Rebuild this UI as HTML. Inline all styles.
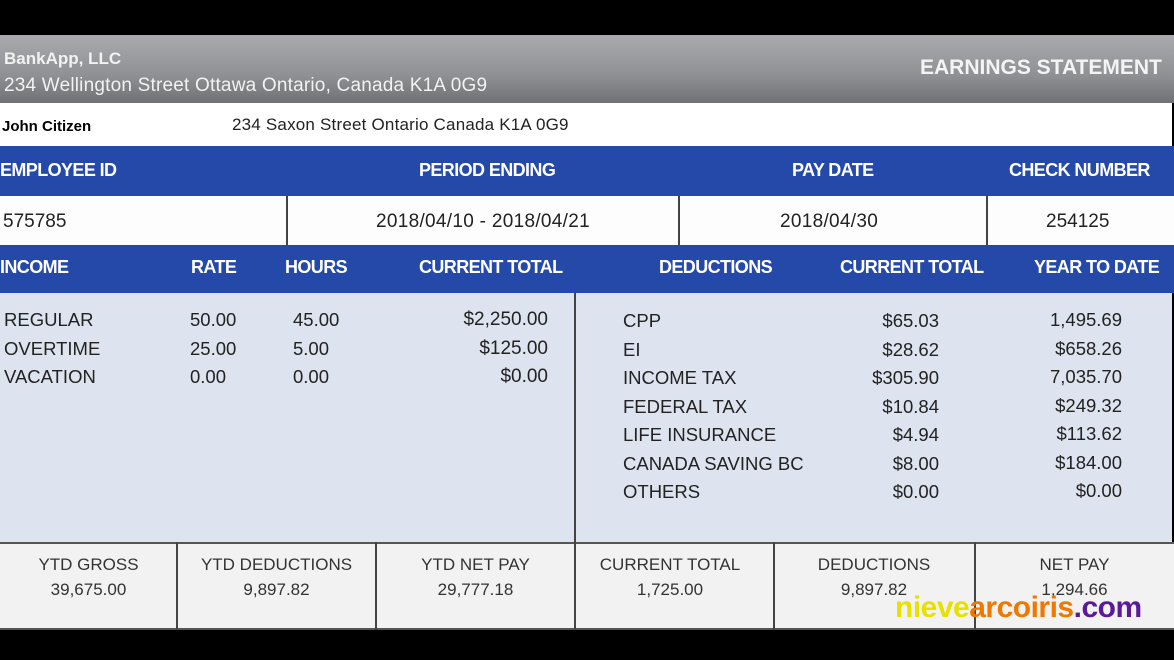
<!DOCTYPE html>
<html><head><meta charset="utf-8"><style>
*{margin:0;padding:0;box-sizing:border-box}
body{width:1174px;height:660px;background:#000;position:relative;overflow:hidden;font-family:"Liberation Sans",sans-serif}
.a{position:absolute;white-space:nowrap}
.hdr{left:0;top:35px;width:1174px;height:68px;background:linear-gradient(#a9abae,#8e9093 60%,#6f7174)}
.blue{background:#2549a8;color:#fff;font-weight:bold;font-size:18px;letter-spacing:-0.6px}
.t{font-size:18.5px;color:#222}
.vl{position:absolute;width:2px;background:#444}
.b{font-size:17px;color:#333;line-height:25px;text-align:center;top:552px}
</style></head><body>
<div class="a hdr"></div>
<div class="a" style="left:4px;top:49px;color:#f2f2f2;font-weight:bold;font-size:17px">BankApp, LLC</div>
<div class="a" style="left:4px;top:75px;color:#f2f2f2;font-size:19px;letter-spacing:0.2px">234 Wellington Street Ottawa Ontario, Canada K1A 0G9</div>
<div class="a" style="left:920px;top:56px;color:#f4f4f4;font-weight:bold;font-size:21px;letter-spacing:0px">EARNINGS STATEMENT</div>
<div class="a" style="left:0;top:103px;width:1172px;height:43px;background:#fff"></div>
<div class="a" style="left:2px;top:118px;font-weight:bold;font-size:15px;color:#000">John Citizen</div>
<div class="a t" style="left:232px;top:115px;font-size:17px;letter-spacing:0.2px">234 Saxon Street Ontario Canada K1A 0G9</div>
<div class="a blue" style="left:0;top:146px;width:1174px;height:50px"></div>
<div class="a blue" style="left:0;top:160px;background:none">EMPLOYEE ID</div>
<div class="a blue" style="left:419px;top:160px;background:none">PERIOD ENDING</div>
<div class="a blue" style="left:792px;top:160px;background:none">PAY DATE</div>
<div class="a blue" style="left:1009px;top:160px;background:none">CHECK NUMBER</div>
<div class="a" style="left:0;top:196px;width:1174px;height:49px;background:#fdfdfd"></div>
<div class="vl" style="left:286px;top:196px;height:49px"></div>
<div class="vl" style="left:678px;top:196px;height:49px"></div>
<div class="vl" style="left:986px;top:196px;height:49px"></div>
<div class="a t" style="left:3px;top:211px;font-size:19px">575785</div>
<div class="a t" style="left:376px;top:211px;font-size:19px;letter-spacing:0.3px">2018/04/10 - 2018/04/21</div>
<div class="a t" style="left:780px;top:211px;font-size:19px;letter-spacing:0.3px">2018/04/30</div>
<div class="a t" style="left:1046px;top:211px;font-size:19px">254125</div>
<div class="a blue" style="left:0;top:245px;width:1174px;height:48px"></div>
<div class="a blue" style="left:0;top:257px;background:none">INCOME</div>
<div class="a blue" style="left:191px;top:257px;background:none">RATE</div>
<div class="a blue" style="left:285px;top:257px;background:none">HOURS</div>
<div class="a blue" style="left:419px;top:257px;background:none">CURRENT TOTAL</div>
<div class="a blue" style="left:659px;top:257px;background:none">DEDUCTIONS</div>
<div class="a blue" style="left:840px;top:257px;background:none">CURRENT TOTAL</div>
<div class="a blue" style="left:1034px;top:257px;background:none">YEAR TO DATE</div>
<div class="a" style="left:0;top:293px;width:1172px;height:249px;background:#dde4ef"></div>
<div class="vl" style="left:574px;top:293px;height:249px"></div>
<div class="a t" style="left:4px;top:306px;line-height:28.5px">REGULAR<br>OVERTIME<br>VACATION</div>
<div class="a t" style="left:190px;top:306px;line-height:28.5px">50.00<br>25.00<br>0.00</div>
<div class="a t" style="left:293px;top:306px;line-height:28.5px">45.00<br>5.00<br>0.00</div>
<div class="a t" style="left:440px;top:306px;width:108px;text-align:right;line-height:28.5px;font-size:19px">$2,250.00<br>$125.00<br>$0.00</div>
<div class="a t" style="left:623px;top:307px;line-height:28.5px">CPP<br>EI<br>INCOME TAX<br>FEDERAL TAX<br>LIFE INSURANCE<br>CANADA SAVING BC<br>OTHERS</div>
<div class="a t" style="left:850px;top:307px;width:89px;text-align:right;line-height:28.5px">$65.03<br>$28.62<br>$305.90<br>$10.84<br>$4.94<br>$8.00<br>$0.00</div>
<div class="a t" style="left:1020px;top:306px;width:102px;text-align:right;line-height:28.5px">1,495.69<br>$658.26<br>7,035.70<br>$249.32<br>$113.62<br>$184.00<br>$0.00</div>
<div class="a" style="left:0;top:542px;width:1174px;height:88px;background:#f2f2f2;border-top:2px solid #555;border-bottom:2px solid #555"></div>
<div class="vl" style="left:176px;top:542px;height:88px"></div>
<div class="vl" style="left:375px;top:542px;height:88px"></div>
<div class="vl" style="left:574px;top:542px;height:88px"></div>
<div class="vl" style="left:773px;top:542px;height:88px"></div>
<div class="vl" style="left:974px;top:542px;height:88px"></div>
<div class="a b" style="left:0;width:177px">YTD GROSS<br>39,675.00</div>
<div class="a b" style="left:177px;width:199px">YTD DEDUCTIONS<br>9,897.82</div>
<div class="a b" style="left:376px;width:199px">YTD NET PAY<br>29,777.18</div>
<div class="a b" style="left:575px;width:190px">CURRENT TOTAL<br>1,725.00</div>
<div class="a b" style="left:774px;width:200px">DEDUCTIONS<br>9,897.82</div>
<div class="a b" style="left:975px;width:199px">NET PAY<br>1,294.66</div>
<div class="a" style="left:895px;top:591px;font-weight:bold;font-size:30px;letter-spacing:-0.5px"><span style="color:#e8e000">nieve</span><span style="color:#f07800">arcoiris</span><span style="color:#5a1a9a">.com</span></div>
</body></html>
